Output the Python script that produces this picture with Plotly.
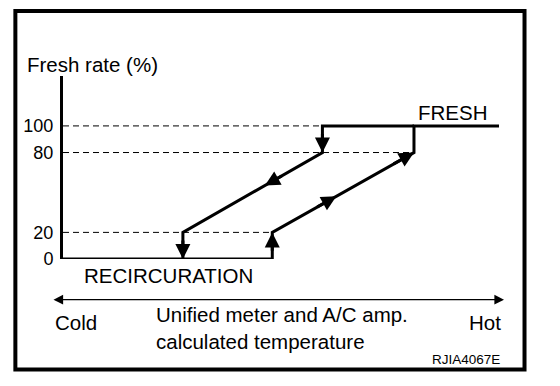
import plotly.graph_objects as go

# ---- data (temperature in relative units 0..100, fresh rate in %) ----
warm_x = [0, 48, 48, 80.5, 80.5, 100]
warm_y = [0, 0, 20, 80, 100, 100]
cool_x = [80.5, 59.5, 59.5, 27.5, 27.5]
cool_y = [100, 100, 80, 20, 0]
ref_levels = [100, 80, 20]
ref_ends = [59.5, 80.5, 48]
tick_vals = [0, 20, 80, 100]
tick_text = ["0", "20", "80", "100"]
# arrow markers: (tip_x, tip_y, tail_x, tail_y)
arrows = [
    (59.5, 80, 59.5, 95),
    (46.3, 55.2, 50.5, 63.0),
    (27.5, 0, 27.5, 15),
    (48, 20, 48, 5),
    (62.7, 47.1, 58.0, 38.5),
    (80.5, 80, 75.5, 70.8),
]

OFF = 8  # browser default body margin
W, H = 560 - OFF, 386 - OFF
L, R, T, B = 63.3 - OFF, 61, 76 - OFF, 126.7
PW, PH = W - L - R, H - T - B
FONT = "Liberation Sans, Arial, sans-serif"


def px(x):
    return (x - OFF - L) / PW


def py(y):
    return 1 - (y - OFF - T) / PH


fig = go.Figure()

for lvl, end in zip(ref_levels, ref_ends):
    fig.add_trace(go.Scatter(x=[0, end], y=[lvl, lvl], mode="lines",
                             line=dict(color="black", width=1, dash="6px,4px"),
                             hoverinfo="skip", showlegend=False))

fig.add_trace(go.Scatter(x=warm_x, y=warm_y, mode="lines",
                         line=dict(color="black", width=3), showlegend=False,
                         cliponaxis=False))
fig.add_trace(go.Scatter(x=cool_x, y=cool_y, mode="lines",
                         line=dict(color="black", width=3), showlegend=False,
                         cliponaxis=False))

anns = []
for tx, ty, ax, ay in arrows:
    anns.append(dict(x=tx, y=ty, ax=ax, ay=ay, xref="x", yref="y", axref="x", ayref="y",
                     text="", showarrow=True, arrowhead=2, arrowsize=1.0,
                     arrowwidth=3, arrowcolor="black"))

# Cold <-> Hot arrow (paper position, pixel offset)
anns.append(dict(x=px(504), y=py(300), ax=-(504 - 52), ay=0, xref="paper", yref="paper",
                 axref="pixel", ayref="pixel", text="", showarrow=True,
                 arrowhead=2, startarrowhead=2, arrowside="end+start",
                 arrowsize=1.6, startarrowsize=1.6, arrowwidth=1.2, arrowcolor="black"))


def txt(s, x, y, size=20.5, xanchor="left"):
    anns.append(dict(text=s, x=px(x), y=py(y), xref="paper", yref="paper",
                     xanchor=xanchor, yanchor="middle", showarrow=False,
                     font=dict(family=FONT, size=size, color="black")))


txt("Fresh rate (%)", 25, 64)
txt("FRESH", 416, 113)
txt("RECIRCURATION", 82, 276)
txt("Cold", 53, 323)
txt("Hot", 467, 323)
anns.append(dict(text="Unified meter and A/C amp.<br>calculated temperature",
                 x=px(154), y=py(328), xref="paper", yref="paper", xanchor="left",
                 yanchor="middle", align="left", showarrow=False,
                 font=dict(family=FONT, size=20.5, color="black")))
txt("RJIA4067E", 430, 360, size=13.5)

fig.update_layout(
    width=W, height=H,
    margin=dict(l=L, r=R, t=T, b=B, pad=0),
    paper_bgcolor="white", plot_bgcolor="white",
    annotations=anns,
    xaxis=dict(range=[0, 100], visible=False, showgrid=False, zeroline=False),
    yaxis=dict(range=[0, 137.5], showgrid=False, zeroline=False,
               showline=True, linecolor="black", linewidth=3,
               tickmode="array", tickvals=tick_vals, ticktext=tick_text,
               ticks="", ticklabelstandoff=3,
               tickfont=dict(family=FONT, size=18, color="black")),
    shapes=[dict(type="rect", xref="paper", yref="paper",
                 x0=px(15.7), x1=px(524.5), y0=py(11), y1=py(370),
                 line=dict(color="black", width=4))],
)

fig.write_html("out.html")
